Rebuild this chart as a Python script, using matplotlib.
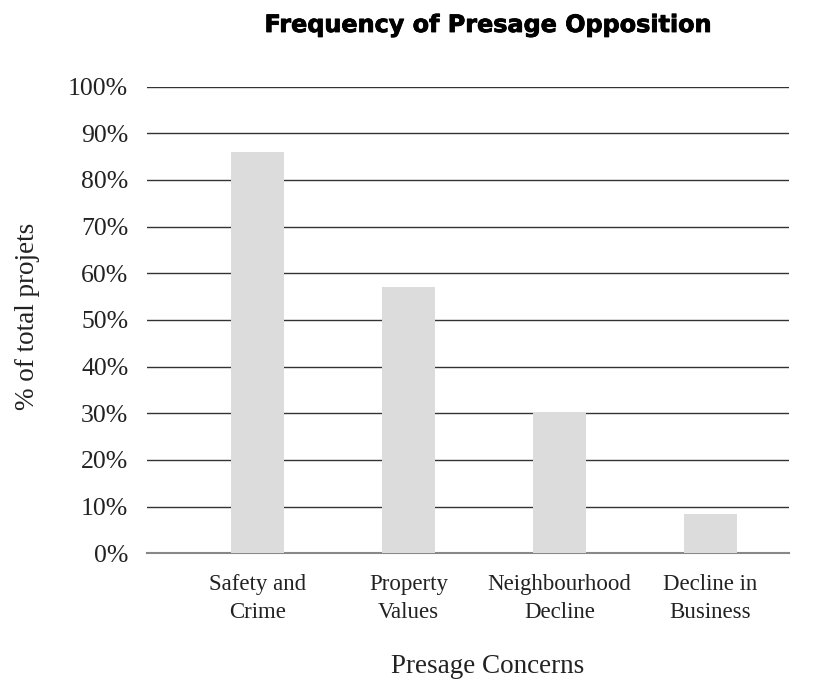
import matplotlib
matplotlib.use("Agg")
import matplotlib.pyplot as plt
import matplotlib.patheffects as pe
from matplotlib.ticker import FuncFormatter

categories = ["Safety and\nCrime", "Property\nValues", "Neighbourhood\nDecline", "Decline in\nBusiness"]
values = [86.0, 57.1, 30.3, 8.4]
yticks = [0, 10, 20, 30, 40, 50, 60, 70, 80, 90, 100]

W, H = 817, 679
fig = plt.figure(figsize=(W / 100, H / 100), dpi=100)
ax = fig.add_axes([147 / W, (H - 553.3) / H, (789 - 147) / W, (553.3 - 86.6) / H])

x = list(range(len(categories)))
ax.bar(x, values, width=0.35, color="#dcdcdc", zorder=3)

ax.set_ylim(0, 100)
ax.set_xlim(-0.73, 3.52)
ax.set_yticks(yticks)
ax.yaxis.set_major_formatter(FuncFormatter(lambda v, p: f"{int(v)}%"))
ax.grid(axis="y", color="#333333", linewidth=1.0, zorder=0)
ax.set_xticks(x)
ax.set_xticklabels(categories, fontsize=16.5, family="Liberation Serif", color="#222222", linespacing=1.45)
for lab in ax.get_yticklabels():
    lab.set_family("Liberation Serif")
    lab.set_fontsize(18.5)
    lab.set_color("#222222")

for s in ["top", "right", "left"]:
    ax.spines[s].set_visible(False)
ax.spines["bottom"].set_color("#888888")
ax.spines["bottom"].set_linewidth(1.5)
ax.tick_params(axis="both", length=0)
ax.tick_params(axis="x", pad=15)
ax.tick_params(axis="y", pad=13.5)

fig.text(488 / W, (H - 673) / H, "Presage Concerns", ha="center", va="baseline",
         fontsize=19.5, family="Liberation Serif", color="#222222")
fig.text(28 / W, (H - 316) / H, "% of total projets", ha="center", va="center", rotation=90,
         fontsize=19.5, family="Liberation Serif", color="#222222")

title = fig.text(488 / W, (H - 32) / H, "Frequency of Presage Opposition", ha="center", va="baseline",
                 fontsize=16, fontweight="bold", family="DejaVu Sans", color="#000000",
                 path_effects=[pe.withStroke(linewidth=0.6, foreground="#000000")])
# fit title width to ~450 px
r = fig.canvas.get_renderer()
w = title.get_window_extent(r).width
title.set_fontsize(16 * 448 / w)

fig.savefig("out.png", dpi=100)
